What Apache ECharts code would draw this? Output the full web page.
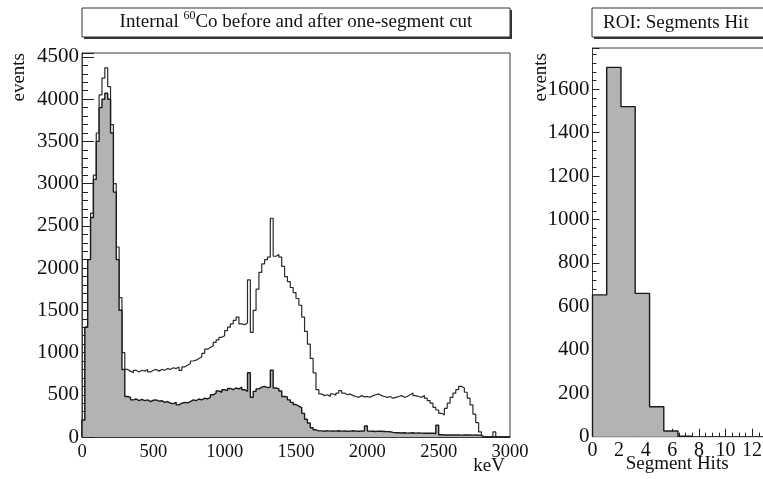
<!DOCTYPE html>
<html><head><meta charset="utf-8">
<script src="https://cdn.jsdelivr.net/npm/echarts@6/dist/echarts.min.js"></script>
<style>html,body{margin:0;padding:0;background:#fff}#c{width:763px;height:479px}</style>
</head><body><div id="c"></div>
<script>
// ---- data ----
const energyBinWidthKeV = 20;
const energyTicks = [0, 500, 1000, 1500, 2000, 2500, 3000];
const countsBeforeCut = [
  200,1300,2100,2650,3100,3600,4050,4250,4370,4150,3700,3000,2250,1650,1000,
  800,780,760,790,770,790,780,800,770,790,800,780,800,790,810,
  800,820,810,830,790,830,850,870,900,910,930,950,990,1040,1060,
  1080,1120,1150,1180,1200,1260,1300,1340,1380,1420,1340,1330,1350,1860,1240,
  1500,1750,1950,2050,2100,2130,2590,2140,2160,2130,2020,1900,1840,1770,1710,
  1640,1560,1420,1250,1100,930,760,560,510,490,500,480,510,495,520,
  550,520,500,510,490,480,470,490,475,480,470,490,500,510,490,
  480,470,480,460,470,480,490,470,480,500,520,490,480,470,490,
  460,430,400,350,320,280,260,340,400,470,520,560,600,580,530,
  460,380,270,170,60,0,0,0,0,60,0,0,0,0,0
];
const countsAfterCut = [
  200,1300,2100,2600,3050,3500,3900,4000,4070,4000,3600,2900,2100,1500,800,
  480,470,440,450,430,445,430,440,420,435,440,425,430,410,420,
  400,395,410,380,400,410,405,420,440,430,450,440,460,450,470,
  500,520,545,530,560,550,575,560,580,570,590,560,540,760,470,
  540,570,590,600,585,590,790,580,570,545,480,475,440,410,385,
  365,345,280,210,165,110,85,72,72,68,75,70,72,70,74,
  70,72,68,70,74,70,68,72,70,130,70,68,66,70,68,
  66,64,62,55,50,50,48,50,46,48,50,46,48,46,45,
  46,44,45,42,140,26,24,25,24,23,25,24,22,24,23,
  24,22,23,22,20,0,0,0,0,0,0,0,0,0,0
];
const segmentBinEdges = [0, 1.07, 2.14, 3.21, 4.29, 5.36, 6.43, 7.5];
const segmentHitsCounts = [653, 1701, 1520, 660, 138, 26, 2];
const segmentTicks = [0, 2, 4, 6, 8, 10, 12];

// ---- helpers: histogram step path from bins ----
function stepFromBins(edges, counts) {
  const pts = [[edges[0], 0]];
  for (let i = 0; i < counts.length; i++) pts.push([edges[i], counts[i]]);
  const last = edges[counts.length];
  pts.push([last, counts[counts.length - 1]]);
  pts.push([last, 0]);
  return pts;
}
const energyEdges = [];
for (let i = 0; i <= countsBeforeCut.length; i++) energyEdges.push(i * energyBinWidthKeV);

const FONT = 'Liberation Serif';
const INK = '#111';
const FRAME = '#3a3a3a';
const FILL = '#b3b3b3';
const plain = v => String(v);

const chart = echarts.init(document.getElementById('c'), null, {renderer: 'canvas'});
chart.setOption({
  animation: false,
  backgroundColor: '#fff',
  textStyle: {fontFamily: FONT},
  title: [
    {
      text: 'Internal {s|60}Co before and after one-segment cut',
      left: 296, top: 10, textAlign: 'center', padding: 0,
      textStyle: {fontFamily: FONT, fontSize: 19, fontWeight: 'normal', color: INK, lineHeight: 24,
        rich: {s: {fontFamily: FONT, fontSize: 12, verticalAlign: 'top', lineHeight: 14, color: INK}}}
    },
    {
      text: 'ROI: Segments Hit',
      left: 603, top: 11, padding: 0,
      textStyle: {fontFamily: FONT, fontSize: 19, fontWeight: 'normal', color: INK, lineHeight: 24}
    }
  ],
  graphic: [
    {type: 'rect', shape: {x: 84, y: 10, width: 428, height: 29}, style: {fill: '#333'}, z: -2, silent: true},
    {type: 'rect', shape: {x: 82, y: 8, width: 428, height: 29}, style: {fill: '#fff', stroke: '#333', lineWidth: 1}, z: -1, silent: true},
    {type: 'rect', shape: {x: 594, y: 10, width: 200, height: 29}, style: {fill: '#333'}, z: -2, silent: true},
    {type: 'rect', shape: {x: 592, y: 8, width: 200, height: 29}, style: {fill: '#fff', stroke: '#333', lineWidth: 1}, z: -1, silent: true}
  ],
  grid: [
    {left: 82, top: 53, width: 428, height: 384, show: true, borderColor: FRAME, borderWidth: 1,
     backgroundColor: 'transparent', containLabel: false, outerBoundsMode: 'none'},
    {left: 592.5, top: 48, width: 186.2, height: 388.7, show: true, borderColor: FRAME, borderWidth: 1,
     backgroundColor: 'transparent', containLabel: false, outerBoundsMode: 'none'}
  ],
  xAxis: [
    {
      type: 'value', gridIndex: 0, min: energyTicks[0], max: energyTicks[energyTicks.length - 1], interval: 500,
      axisLine: {show: true, lineStyle: {color: FRAME}},
      axisTick: {show: false}, splitLine: {show: false},
      axisLabel: {fontFamily: FONT, fontSize: 18.5, color: INK, margin: 6, formatter: plain},
      name: 'keV', nameLocation: 'end', nameGap: -5, nameMoveOverlap: false,
      nameTextStyle: {fontFamily: FONT, fontSize: 19, color: INK, align: 'right', verticalAlign: 'top', padding: [20, 0, 0, 0]}
    },
    {
      type: 'value', gridIndex: 1, min: 0, max: 14, interval: 2,
      axisLine: {show: true, lineStyle: {color: FRAME}},
      axisTick: {show: true, inside: true, length: 8, lineStyle: {color: '#222'}},
      minorTick: {show: true, splitNumber: 4, length: 4, lineStyle: {color: '#222'}},
      splitLine: {show: false},
      axisLabel: {fontFamily: FONT, fontSize: 20, color: INK, margin: 4, formatter: plain},
      name: 'Segment Hits', nameLocation: 'middle', nameGap: 18, nameMoveOverlap: false,
      nameTextStyle: {fontFamily: FONT, fontSize: 19, color: INK, align: 'center', verticalAlign: 'top', padding: [0, 17, 0, 0]}
    }
  ],
  yAxis: [
    {
      type: 'value', gridIndex: 0, min: 0, max: 4547, interval: 500,
      axisLine: {show: true, lineStyle: {color: FRAME}},
      axisTick: {show: true, inside: true, length: 12, lineStyle: {color: '#222'}},
      minorTick: {show: true, splitNumber: 5, length: 6, lineStyle: {color: '#222'}},
      splitLine: {show: false},
      axisLabel: {fontFamily: FONT, fontSize: 21, color: INK, margin: 3, showMaxLabel: false, formatter: plain},
      name: 'events', nameLocation: 'end', nameGap: 0, nameRotate: 90, nameMoveOverlap: false,
      nameTextStyle: {fontFamily: FONT, fontSize: 19, color: INK, align: 'right', verticalAlign: 'bottom', padding: [0, 0, 53, 0]}
    },
    {
      type: 'value', gridIndex: 1, min: 0, max: 1790, interval: 200,
      axisLine: {show: true, lineStyle: {color: FRAME}},
      axisTick: {show: true, inside: true, length: 7, lineStyle: {color: '#222'}},
      minorTick: {show: true, splitNumber: 5, length: 4, lineStyle: {color: '#222'}},
      splitLine: {show: false},
      axisLabel: {fontFamily: FONT, fontSize: 21, color: INK, margin: 3, showMaxLabel: false, formatter: plain},
      name: 'events', nameLocation: 'end', nameGap: -5, nameRotate: 90, nameMoveOverlap: false,
      nameTextStyle: {fontFamily: FONT, fontSize: 19, color: INK, align: 'right', verticalAlign: 'bottom', padding: [0, 0, 42, 0]}
    }
  ],
  series: [
    {
      name: 'before cut', type: 'line', xAxisIndex: 0, yAxisIndex: 0, step: 'end', symbol: 'none',
      data: stepFromBins(energyEdges, countsBeforeCut),
      lineStyle: {color: '#2a2a2a', width: 1.2}, z: 2, silent: true
    },
    {
      name: 'after cut', type: 'line', xAxisIndex: 0, yAxisIndex: 0, step: 'end', symbol: 'none',
      data: stepFromBins(energyEdges, countsAfterCut),
      lineStyle: {color: '#1a1a1a', width: 1.4}, areaStyle: {color: FILL, opacity: 1}, z: 3, silent: true
    },
    {
      name: 'segments hit', type: 'line', xAxisIndex: 1, yAxisIndex: 1, step: 'end', symbol: 'none',
      data: stepFromBins(segmentBinEdges, segmentHitsCounts),
      lineStyle: {color: '#1a1a1a', width: 1.4}, areaStyle: {color: FILL, opacity: 1}, z: 3, silent: true
    }
  ]
});
</script></body></html>
